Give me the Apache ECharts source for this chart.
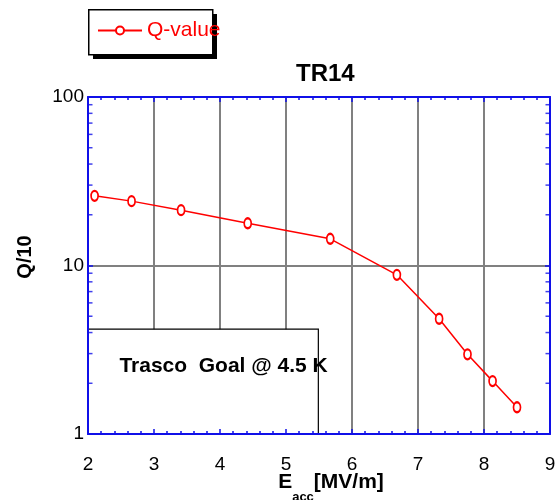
<!DOCTYPE html>
<html>
<head>
<meta charset="utf-8">
<script src="https://cdn.jsdelivr.net/npm/echarts@6/dist/echarts.min.js"></script>
<style>html,body{margin:0;padding:0;background:#fff}#c{width:559px;height:500px}</style>
</head>
<body>
<div id="c"></div>
<script>
const eacc = [2.10, 2.66, 3.41, 4.42, 5.67, 6.68, 7.32, 7.75, 8.13, 8.50];
const qValue = [25.9, 24.1, 21.3, 17.8, 14.4, 8.8, 4.83, 2.97, 2.06, 1.44];
const xRange = [2, 9];
const yRange = [1, 100];
const yMinorTicks = [2, 3, 4, 5, 6, 7, 8, 9, 20, 30, 40, 50, 60, 70, 80, 90];
const goalX = [2, 5.49];
const goalY = [1, 4.19];
const goalText = 'Trasco  Goal @ 4.5 K';

const FONT = 'Liberation Sans, Arial, Helvetica, sans-serif';
const BLUE = '#1010e8';
const RED = '#ff0000';

const chart = echarts.init(document.getElementById('c'), null, {renderer: 'canvas'});

const baseX = {
  type: 'value', min: xRange[0], max: xRange[1], interval: 1,
  axisLine: {show: true, onZero: false, lineStyle: {color: BLUE, width: 2}},
  axisTick: {show: true, inside: true, length: 5, lineStyle: {color: BLUE, width: 1.5}},
  minorTick: {show: true, splitNumber: 5, length: 3, lineStyle: {color: BLUE, width: 1.5}},
  splitLine: {show: false},
  axisLabel: {show: false},
  z: 10
};
const baseY = {
  type: 'log', logBase: 10, min: yRange[0], max: yRange[1],
  axisLine: {show: true, onZero: false, lineStyle: {color: BLUE, width: 2}},
  axisTick: {show: true, inside: true, length: 5, lineStyle: {color: BLUE, width: 1.5}},
  minorTick: {show: false},
  splitLine: {show: false},
  axisLabel: {show: false},
  z: 10
};

const option = {
  backgroundColor: '#fff',
  animation: false,
  textStyle: {fontFamily: FONT},
  title: {
    text: 'TR14', left: 291, top: 57,
    textStyle: {fontFamily: FONT, fontSize: 24, fontWeight: 'bold', color: '#000'}
  },
  graphic: [
    {type: 'rect', left: 93, top: 14, z: 0, shape: {width: 124, height: 45}, style: {fill: '#000'}, silent: true},
    {type: 'rect', left: 88, top: 9, z: 1, shape: {width: 124, height: 45}, style: {fill: '#fff', stroke: '#000', lineWidth: 1.5}, silent: true}
  ],
  legend: {
    data: ['Q-value'], left: 97, top: 20, orient: 'horizontal', z: 20,
    padding: 0,
    itemWidth: 44, itemHeight: 10,
    textStyle: {fontFamily: FONT, fontSize: 21, color: RED}
  },
  grid: {left: 88, right: 9, top: 97, bottom: 66, containLabel: false, outerBoundsMode: 'none'},
  xAxis: [
    Object.assign({}, baseX, {
      position: 'bottom',
      axisLabel: {show: true, margin: 21, fontSize: 19, color: '#000', fontFamily: FONT},
      name: '{e|E}{s|acc}{u|[MV/m]}',
      nameLocation: 'middle', nameGap: 38, nameMoveOverlap: false,
      nameTextStyle: {
        padding: [0, 0, 0, 24],
        rich: {
          e: {fontSize: 21, fontWeight: 'bold', fontFamily: FONT, color: '#000', lineHeight: 22, verticalAlign: 'top'},
          s: {fontSize: 13, fontWeight: 'bold', fontFamily: FONT, color: '#000', lineHeight: 12, padding: [19, 0, 0, 0], verticalAlign: 'top'},
          u: {fontSize: 21, fontWeight: 'bold', fontFamily: FONT, color: '#000', lineHeight: 22, verticalAlign: 'top'}
        }
      }
    }),
    Object.assign({}, baseX, {position: 'top'}),
    {
      type: 'value', min: xRange[0], max: xRange[1], interval: 1, position: 'bottom',
      axisLine: {show: false}, axisTick: {show: false}, axisLabel: {show: false},
      splitLine: {show: true, lineStyle: {color: '#808080', width: 2}}, z: 0
    }
  ],
  yAxis: [
    Object.assign({}, baseY, {
      position: 'left',
      axisLabel: {show: true, margin: 4, fontSize: 19, color: '#000', fontFamily: FONT},
      name: 'Q/10',
      nameLocation: 'middle', nameGap: 53, nameRotate: 90, nameMoveOverlap: false,
      nameTextStyle: {fontSize: 20, fontWeight: 'bold', color: '#000', fontFamily: FONT, padding: [0, 0, 0, 17]}
    }),
    Object.assign({}, baseY, {position: 'right'}),
    {
      type: 'log', logBase: 10, min: yRange[0], max: yRange[1], position: 'left',
      axisLine: {show: false}, axisTick: {show: false}, axisLabel: {show: false},
      splitLine: {show: true, lineStyle: {color: '#808080', width: 2}}, z: 0
    }
  ],
  series: [
    {
      name: 'goal', type: 'line', data: [], xAxisIndex: 0, yAxisIndex: 0, z: 1, silent: true,
      markArea: {
        silent: true,
        itemStyle: {color: '#fff', borderColor: '#000', borderWidth: 1.2},
        label: {
          show: true, position: [32, 38], align: 'left', verticalAlign: 'middle',
          fontFamily: FONT, fontSize: 21, fontWeight: 'bold', color: '#000'
        },
        data: [[{name: goalText, coord: [goalX[0], goalY[0]]}, {coord: [goalX[1], goalY[1]]}]]
      }
    },
    {
      name: 'Q-value', type: 'line', xAxisIndex: 0, yAxisIndex: 0, z: 5,
      data: eacc.map((x, i) => [x, qValue[i]]),
      symbol: 'emptyCircle', symbolSize: [7, 10], showAllSymbol: true,
      lineStyle: {color: RED, width: 1.5},
      itemStyle: {color: RED, borderColor: RED, borderWidth: 1.5},
      clip: false
    },
    {
      name: 'minorLeft', type: 'scatter', xAxisIndex: 0, yAxisIndex: 0, z: 11, silent: true, clip: false,
      data: yMinorTicks.map(v => [xRange[0], v]),
      symbol: 'rect', symbolSize: [4, 1.5], symbolOffset: [2.5, 0],
      itemStyle: {color: BLUE}
    },
    {
      name: 'minorRight', type: 'scatter', xAxisIndex: 0, yAxisIndex: 0, z: 11, silent: true, clip: false,
      data: yMinorTicks.map(v => [xRange[1], v]),
      symbol: 'rect', symbolSize: [4, 1.5], symbolOffset: [-2.5, 0],
      itemStyle: {color: BLUE}
    }
  ]
};
chart.setOption(option);
</script>
</body>
</html>
